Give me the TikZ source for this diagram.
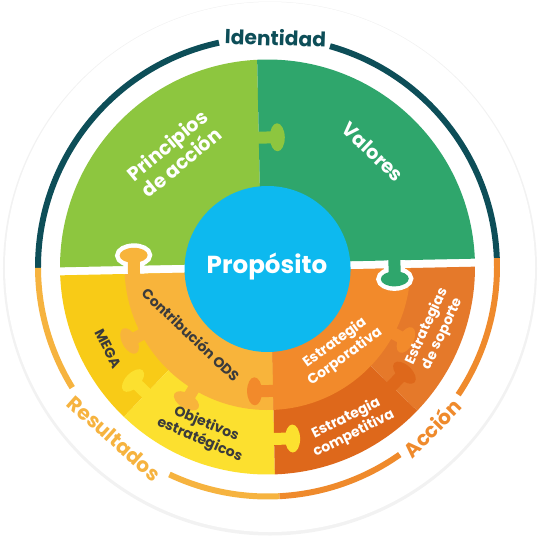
\documentclass[tikz,border=0pt]{standalone}
\usepackage{fontspec}
\setmainfont{Poppins}

\definecolor{verdeclaro}{HTML}{8DC63F}
\definecolor{verdeoscuro}{HTML}{2FA66C}
\definecolor{azul}{HTML}{0DB9EF}
\definecolor{contrib}{HTML}{F8B43B}
\definecolor{mega}{HTML}{F8CB17}
\definecolor{objetivos}{HTML}{FCE02F}
\definecolor{corporativa}{HTML}{F28A2B}
\definecolor{soporte}{HTML}{E5792A}
\definecolor{competitiva}{HTML}{DE681B}
\definecolor{petroleo}{HTML}{0D4E58}
\definecolor{arcoamarillo}{HTML}{F6B33F}
\definecolor{arconaranja}{HTML}{EF8A2C}
\definecolor{textoscuro}{HTML}{3B3B3B}

% puzzle knob: base point, direction, colour
\newcommand{\tenon}[3]{%
  \begin{scope}[shift={#1}, rotate=#2]
    \fill[#3] (-3,-6) rectangle (14,6);
    \fill[#3] (18.5,0) ellipse [x radius=7.5, y radius=14];
  \end{scope}}
% white rim round a knob that crosses the gap
\newcommand{\borde}[2]{%
  \begin{scope}[shift={#1}, rotate=#2]
    \draw[white, line width=5.1pt] (-3,-6) rectangle (14,6);
    \draw[white, line width=5.1pt] (18.5,0) ellipse [x radius=7.5, y radius=14];
  \end{scope}}

\begin{document}
\begin{tikzpicture}[
    x=0.02cm, y=0.02cm,
    anillo/.style={line width=3.4pt},
    titulo/.style={font=\bfseries\fontsize{11.5}{13}\selectfont, inner sep=0pt},
    etiqueta/.style={font=\bfseries\fontsize{8}{9.8}\selectfont, text=white,
      align=center, inner sep=0pt},
    oscuro/.style={etiqueta, text=textoscuro},
    grande/.style={etiqueta, font=\bfseries\fontsize{11}{12.5}\selectfont}
  ]

  \useasboundingbox (-267.5,-275) rectangle (276.5,267);
  \fill[black!5] (2.5,-1.5) circle (267);
  \fill[white] (2.5,0) circle (265);

  \begin{scope}[rotate=1.2]
    % outer rings
    \draw[anillo, petroleo] (1:229.5) arc[start angle=1, end angle=73, radius=229.5];
    \draw[anillo, petroleo] (101:229.5) arc[start angle=101, end angle=179, radius=229.5];
    \draw[anillo, arcoamarillo] (179:229.5) arc[start angle=179, end angle=210.5, radius=229.5];
    \draw[anillo, arcoamarillo] (243.5:229.5) arc[start angle=243.5, end angle=271.8, radius=229.5];
    \draw[anillo, arconaranja] (271.8:229.5) arc[start angle=271.8, end angle=304, radius=229.5];
    \draw[anillo, arconaranja] (325:229.5) arc[start angle=325, end angle=361, radius=229.5];

    % upper half
    \begin{scope}
      \clip (0,0) circle (207.5);
      \clip (-210,4) rectangle (210,210);
      \fill[verdeclaro] (-210,4) rectangle (-6,210);
      \fill[verdeoscuro] (-6,4) rectangle (210,210);
    \end{scope}

    % lower half
    \begin{scope}
      \clip (0,0) circle (207.5);
      \clip (-210,-4) rectangle (210,-210);
      \fill[mega] (0,0) -- (180:300) -- (225:300) -- cycle;
      \fill[objetivos] (0,0) -- (225:300) -- (3,-300) -- (3,0) -- cycle;
      \fill[competitiva] (3,0) -- (3,-300) -- (315:300) -- (0,0) -- cycle;
      \fill[soporte] (0,0) -- (315:300) -- (300,0) -- cycle;
      \clip (0,0) circle (143);
      \fill[contrib] (-210,0) rectangle (3,-210);
      \fill[corporativa] (3,0) rectangle (210,-210);
    \end{scope}

    % knobs
    \tenon{(-6,129.5)}{0}{verdeclaro}
    \tenon{(207:138)}{207}{contrib}
    \tenon{(237.6:138)}{237.6}{contrib}
    \tenon{(225:175)}{135}{objetivos}
    \tenon{(3,-124)}{180}{corporativa}
    \tenon{(3,-172)}{0}{objetivos}
    \tenon{(-29:138)}{-29}{corporativa}
    \tenon{(315:172)}{45}{competitiva}

    \begin{scope}
      \clip (-210,-4) rectangle (210,210);
      \borde{(-133.6,-4)}{90}
    \end{scope}
    \tenon{(-133.6,-4)}{90}{contrib}
    \begin{scope}
      \clip (-210,4) rectangle (210,-210);
      \borde{(127,4)}{-90}
    \end{scope}
    \tenon{(127,4)}{-90}{verdeoscuro}

    \fill[azul] (0,-2) circle (83);
  \end{scope}

  \node[titulo, text=petroleo] (t1) at (88:229.5) [rotate=-2] {Identidad};
  \node[titulo, text=arcoamarillo] (t2) at (228.2:230) [rotate=-41.8] {Resultados};
  \node[titulo, text=arconaranja] (t3) at (315.6:230) [rotate=45.6] {Acción};

  \node[font=\bfseries\fontsize{14}{17}\selectfont, text=white] (prop) at (-0.5,0) {Propósito};

  \node[grande] (t4) at (-93.5,113.5) [rotate=40] {Principios\\de acción};
  \node[grande] (t5) at (105.5,115) [rotate=-43.6] {Valores};
  \node[oscuro] (t6) at (-76.5,-67.5) [rotate=-43.5] {Contribución ODS};
  \node[oscuro] (t7) at (-159,-81.5) [rotate=-63] {MEGA};
  \node[oscuro] (t8) at (-64.5,-165) [rotate=-23] {Objetivos\\estratégicos};
  \node[etiqueta] (t9) at (72.5,-83) [rotate=36] {Estrategia\\Corporativa};
  \node[etiqueta] (t10) at (167.5,-63) [rotate=65] {Estrategias\\de soporte};
  \node[etiqueta] (t11) at (82.5,-159) [rotate=26.6] {Estrategia\\competitiva};

\end{tikzpicture}
\end{document}
